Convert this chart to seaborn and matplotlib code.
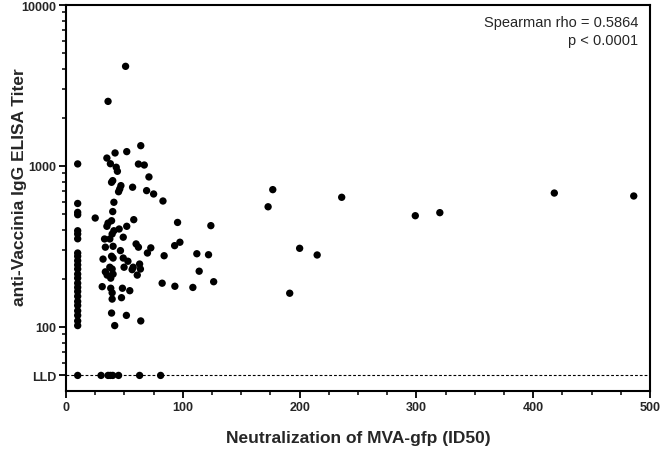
import numpy as np
import pandas as pd
import matplotlib
matplotlib.use("Agg")
import matplotlib.pyplot as plt
import seaborn as sns

# ---- data ----
col10_y = [1030, 585, 515, 498, 396, 378, 353, 288, 275, 258, 243, 229, 213,
           201, 187, 176, 166, 155, 144, 136, 126, 118, 109, 102]

cluster_x = [51, 36, 64, 42, 52, 35, 38, 62, 67, 43, 44, 71, 40, 39, 47, 46, 45,
             57, 69, 75, 83, 41, 40, 25, 58, 95.5, 39, 36, 35, 52, 45.5, 41, 39.5,
             33, 37.5, 49, 97.5, 93, 60, 62, 72.6, 33.7, 40.3, 46.6, 69.7, 84,
             31.7, 39, 40.3, 49, 53, 63, 49.7, 57.5, 63.7, 37.5, 39.5, 33.7, 35.2,
             40.3, 56.6, 61, 38.3, 82.3, 93.2, 31, 38.3, 48.3, 54.6, 39.5, 47.5,
             39.5, 39, 51.7, 64, 41.7]
cluster_y = [4160, 2520, 1337, 1205, 1228, 1120, 1033, 1028, 1014, 982, 927, 855,
             811, 792, 755, 720, 692, 738, 703, 670, 606, 595, 521, 475, 464, 446,
             457, 442, 422, 422, 406, 396, 378, 352, 352, 361, 336, 320, 328, 313,
             310, 313, 317, 298, 288, 277, 264, 275, 268, 268, 256, 246, 235, 235,
             229, 235, 229, 220, 210, 213, 227, 210, 201, 187, 179, 178, 174, 174,
             168, 163, 152, 149, 122, 118, 109, 102]

right_x = [124, 112, 122, 114, 108.6, 126.4, 177, 173, 236, 200, 215, 191.5,
           299, 320, 418, 486]
right_y = [426, 285, 281, 222, 176, 191, 713, 558, 639, 308, 280, 162,
           491, 513, 679, 651]

LLD = 50
lld_x = [10, 30, 36, 38, 40, 45, 63, 81]

x_ticks = [0, 100, 200, 300, 400, 500]
y_ticks = [LLD, 100, 1000, 10000]
y_ticklabels = ["LLD", "100", "1000", "10000"]

# ---- assemble ----
xs = [10] * len(col10_y) + cluster_x + right_x + lld_x
ys = col10_y + cluster_y + right_y + [LLD] * len(lld_x)
df = pd.DataFrame({"Neutralization": xs, "Titer": ys})

sns.set_style("ticks")
plt.rcParams["font.family"] = ["Liberation Sans", "DejaVu Sans"]

fig = plt.figure(figsize=(6.6, 4.52), dpi=100)
ax = fig.add_axes([0.1, 0.1327, 0.885, 0.854])

ax.axhline(LLD, color="black", lw=0.8, ls=(0, (2.5, 1.8)), zorder=1)
sns.scatterplot(data=df, x="Neutralization", y="Titer", ax=ax, color="black",
                s=28, edgecolor="none", zorder=3, clip_on=False)

ax.set_yscale("log")
ax.set_ylim(40, 10000)
ax.set_xlim(0, 500)

ax.set_xticks(x_ticks)
ax.set_xticklabels([str(t) for t in x_ticks], fontweight="bold", fontsize=9)
ax.set_xticks(np.arange(25, 500, 25), minor=True)
ax.set_yticks(y_ticks)
ax.set_yticklabels(y_ticklabels, fontweight="bold", fontsize=9)
minor_y = [60, 70, 80, 90] + list(range(200, 1000, 100)) + list(range(2000, 10000, 1000))
ax.set_yticks(minor_y, minor=True)
ax.yaxis.set_minor_formatter(matplotlib.ticker.NullFormatter())

ax.tick_params(axis="both", which="major", length=5, width=1.3, color="black", pad=2)
ax.tick_params(axis="both", which="minor", length=3, width=1.1, color="black")
ax.tick_params(top=False, right=False)

for sp in ax.spines.values():
    sp.set_linewidth(1.5)
    sp.set_color("black")

ax.set_xlabel("Neutralization of MVA-gfp (ID50)", fontweight="bold", fontsize=12.5)
ax.set_ylabel("anti-Vaccinia IgG ELISA Titer", fontweight="bold", fontsize=12.5)
ax.xaxis.set_label_coords(0.5, -0.102)
ax.yaxis.set_label_coords(-0.079, 0.53)
ax.yaxis.label.set_va("center")

ax.text(0.98, 0.975, "Spearman rho = 0.5864\np < 0.0001", transform=ax.transAxes,
        ha="right", va="top", fontsize=10.5, linespacing=1.35)

fig.savefig("out.png", dpi=100)
